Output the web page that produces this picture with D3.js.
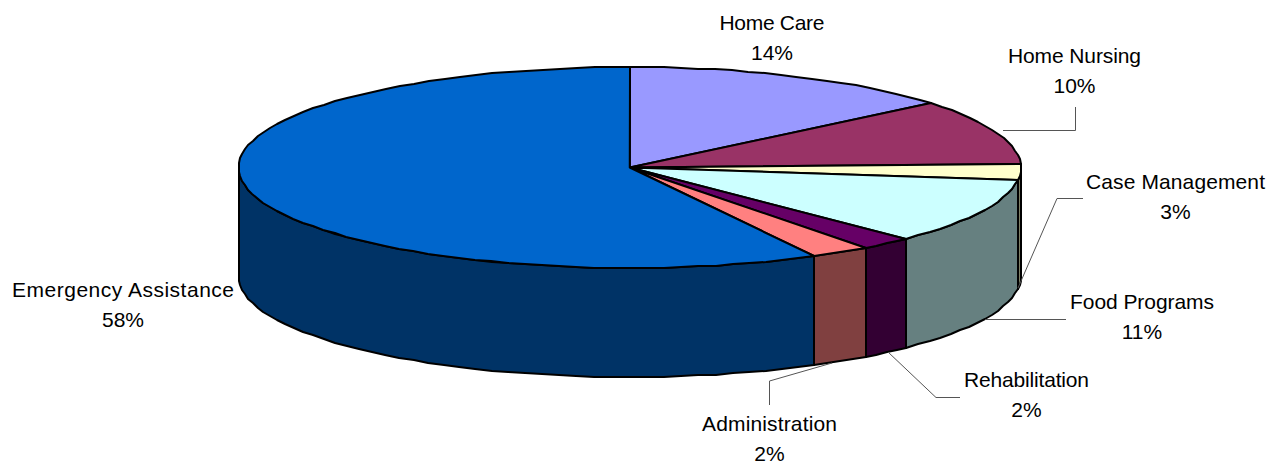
<!DOCTYPE html>
<html>
<head>
<meta charset="utf-8">
<script src="https://cdn.jsdelivr.net/npm/d3@7"></script>
<style>
html, body { margin: 0; padding: 0; background: #fff; }
svg { display: block; }
text { font-family: "Liberation Sans", Arial, sans-serif; font-size: 21px; fill: #000; }
</style>
</head>
<body>
<div id="chart-area"></div>
<script>
// Data, clockwise from 12 o'clock
var categories = ["Home Care", "Home Nursing", "Case Management", "Food Programs", "Rehabilitation", "Administration", "Emergency Assistance"];
var shares = [14.0, 10.4, 2.6, 10.5, 2.2, 2.5, 57.8];
var percentLabels = ["14%", "10%", "3%", "11%", "2%", "2%", "58%"];
var topColors = ["#9999ff", "#993366", "#ffffcc", "#ccffff", "#660066", "#ff8080", "#0066cc"];

// Label anchor (centre of the first line), text width, then the leader line if it has one
var labelLayout = [
    {x: 772, y: 29.5, w: 105, leader: null},
    {x: 1074.5, y: 63, w: 133, leader: [[1003, 130.5], [1075.5, 130.5], [1075.5, 107]]},
    {x: 1175.5, y: 189, w: 179, leader: [[1018, 288], [1057, 198.5], [1083, 198.5]]},
    {x: 1142, y: 309, w: 144, leader: [[985, 319.5], [1066, 319.5]]},
    {x: 1026.5, y: 387, w: 125, leader: [[888, 352], [936, 397.5], [960, 397.5]]},
    {x: 769.5, y: 431, w: 135, leader: [[832, 363], [769.5, 381], [769.5, 405]]},
    {x: 123, y: 297, w: 222, leader: null}
];

var width = 1271, height = 463, depth = 109;

var svg = d3.select("#chart-area")
    .append("svg")
        .attr("width", width)
        .attr("height", height);

// Unit circle to the tilted ellipse
var x = d3.scaleLinear().domain([-1, 1]).range([238.5, 1021]);
var y = d3.scaleLinear().domain([-1, 1]).range([67, 268]);

var pie = d3.pie().sort(null).value(d => d.share);
var slices = pie(categories.map((c, i) => ({name: c, share: shares[i], color: topColors[i]})));

var line = d3.line();

// coarse rim, rounded to pixels, as the original renderer draws it
function rim(a0, a1, dy) {
    var n = Math.max(1, Math.ceil((a1 - a0) / 0.045)), pts = [];
    for (var i = 0; i <= n; i++) {
        var a = a0 + (a1 - a0) * i / n;
        pts.push([Math.round(x(Math.sin(a))), Math.round(y(-Math.cos(a))) + dy]);
    }
    return pts;
}

// Side walls, only the front half of the rim shows
var frontStart = Math.PI / 2, frontEnd = Math.PI * 3 / 2;
svg.append("g")
    .selectAll("path")
    .data(slices.filter(d => d.endAngle > frontStart && d.startAngle < frontEnd))
    .enter()
    .append("path")
        .attr("d", d => {
            var a0 = Math.max(d.startAngle, frontStart), a1 = Math.min(d.endAngle, frontEnd);
            return line(rim(a0, a1, 0).concat(rim(a0, a1, depth).reverse())) + "Z";
        })
        .attr("fill", d => {
            var c = d3.rgb(d.data.color);
            return d3.rgb(c.r / 2, c.g / 2, c.b / 2);
        })
        .attr("stroke", "#000")
        .attr("stroke-width", 2)
        .attr("stroke-linejoin", "round");

// Top faces
svg.append("g")
    .selectAll("path")
    .data(slices)
    .enter()
    .append("path")
        .attr("d", d => line([[x(0), y(0)]].concat(rim(d.startAngle, d.endAngle, 0))) + "Z")
        .attr("fill", d => d.data.color)
        .attr("stroke", "#000")
        .attr("stroke-width", 2)
        .attr("stroke-linejoin", "round");

// Leader lines
svg.append("g")
    .selectAll("path")
    .data(labelLayout.filter(d => d.leader))
    .enter()
    .append("path")
        .attr("d", d => line(d.leader))
        .attr("fill", "none")
        .attr("stroke", "#555")
        .attr("stroke-width", 1);

// Labels
var labels = svg.append("g")
    .selectAll("text")
    .data(categories)
    .enter()
    .append("text")
        .attr("text-anchor", "middle")
        .attr("x", (d, i) => labelLayout[i].x)
        .attr("y", (d, i) => labelLayout[i].y);

labels.append("tspan")
    .attr("textLength", (d, i) => labelLayout[i].w)
    .attr("lengthAdjust", "spacing")
    .text(d => d);
labels.append("tspan")
    .attr("x", (d, i) => labelLayout[i].x)
    .attr("dy", 30)
    .text((d, i) => percentLabels[i]);
</script>
</body>
</html>
